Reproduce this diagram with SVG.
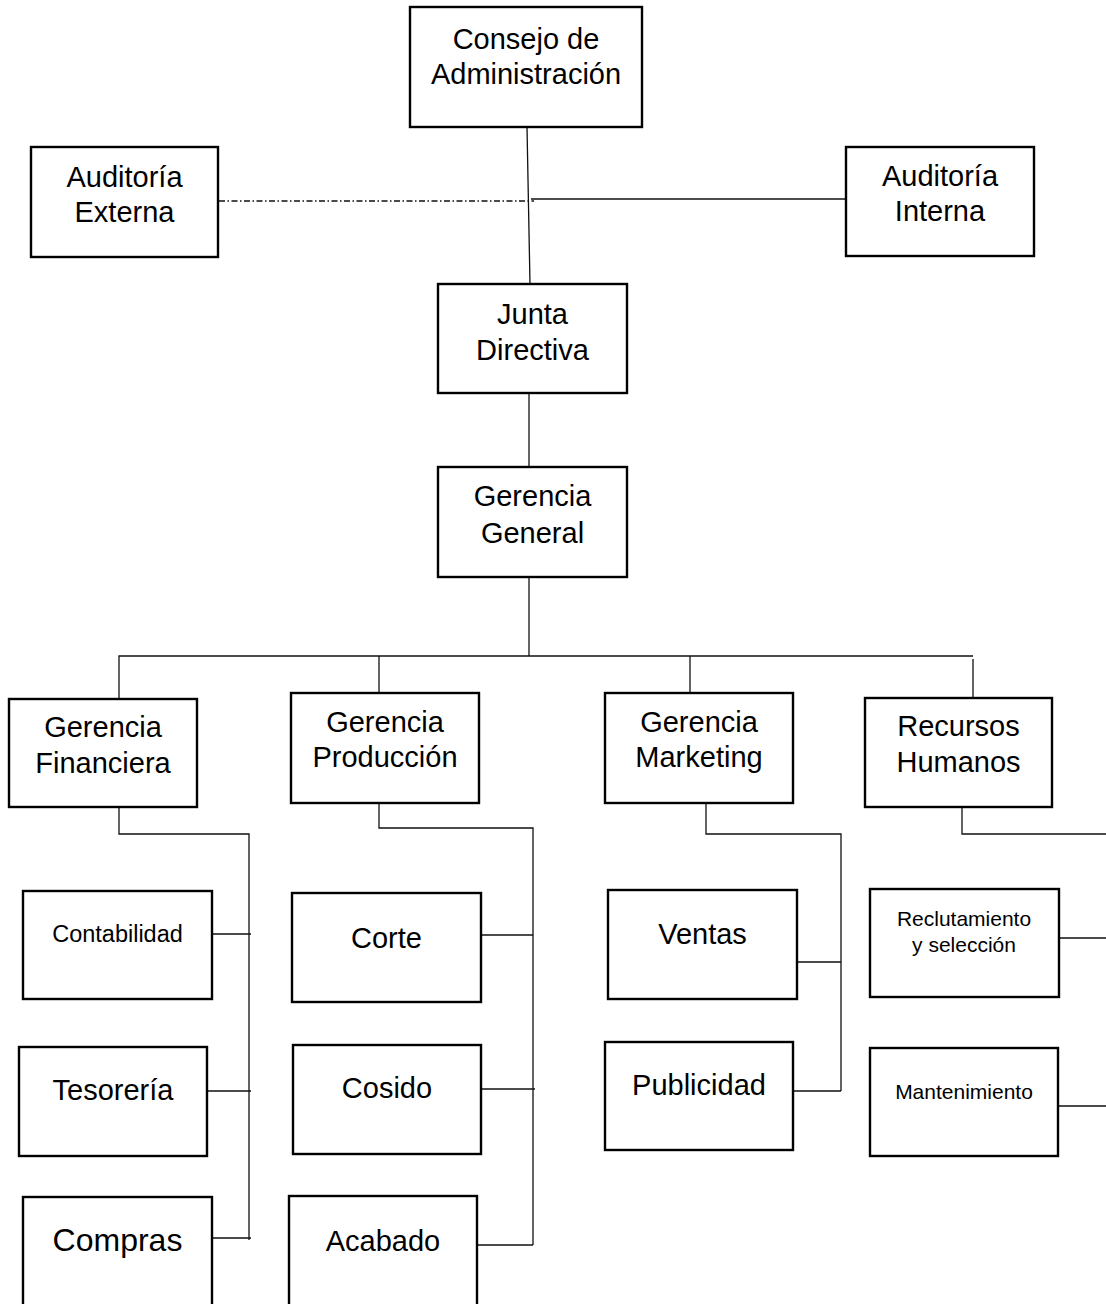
<svg xmlns="http://www.w3.org/2000/svg" width="1106" height="1304" viewBox="0 0 1106 1304">
<style>
.box{fill:#fff;stroke:#000;stroke-width:2.4}
.t{font-family:"Liberation Sans",Arial,sans-serif;font-size:29px;fill:#000;text-anchor:middle}
.s{font-size:21px}
.m{font-size:23.5px}
.l{font-size:32px}
.c{fill:none;stroke:#111;stroke-width:1.3}
.dd{fill:none;stroke:#111;stroke-width:1.4;stroke-dasharray:6,2.5,1.5,2.5}
</style>
<rect width="1106" height="1304" fill="#fff"/>
<g id="connectors">
<line class="c" x1="527" y1="127" x2="530" y2="284"/>
<line class="dd" x1="219" y1="201" x2="534" y2="201"/>
<line class="c" x1="531" y1="199" x2="846" y2="199"/>
<line class="c" x1="529" y1="393" x2="529" y2="467"/>
<line class="c" x1="529" y1="577" x2="529" y2="656"/>
<polyline class="c" points="119,700 119,656 973,656"/>
<line class="c" x1="379" y1="656" x2="379" y2="694"/>
<line class="c" x1="690" y1="656" x2="690" y2="693"/>
<line class="c" x1="973" y1="659" x2="973" y2="698"/>
<polyline class="c" points="119,808 119,834 249,834 249,1240"/>
<line class="c" x1="212" y1="934" x2="251" y2="934"/>
<line class="c" x1="207" y1="1091" x2="251" y2="1091"/>
<line class="c" x1="212" y1="1238" x2="251" y2="1238"/>
<polyline class="c" points="379,803 379,828 533,828 533,1245"/>
<line class="c" x1="481" y1="935" x2="533" y2="935"/>
<line class="c" x1="481" y1="1089" x2="535" y2="1089"/>
<line class="c" x1="477" y1="1245" x2="533" y2="1245"/>
<polyline class="c" points="706,803 706,834 841,834 841,1091"/>
<line class="c" x1="797" y1="962" x2="841" y2="962"/>
<line class="c" x1="793" y1="1091" x2="841" y2="1091"/>
<polyline class="c" points="962,808 962,834 1106,834"/>
<line class="c" x1="1059" y1="938" x2="1106" y2="938"/>
<line class="c" x1="1057" y1="1106" x2="1106" y2="1106"/>
</g>
<g id="consejo"><rect class="box" x="410" y="7" width="232" height="120"/><text class="t" x="526" y="49">Consejo de</text><text class="t" x="526" y="84">Administración</text></g>
<g id="auditoria-externa"><rect class="box" x="31" y="147" width="187" height="110"/><text class="t" x="124.5" y="187">Auditoría</text><text class="t" x="124.5" y="222">Externa</text></g>
<g id="auditoria-interna"><rect class="box" x="846" y="147" width="188" height="109"/><text class="t" x="940" y="186">Auditoría</text><text class="t" x="940" y="221">Interna</text></g>
<g id="junta"><rect class="box" x="438" y="284" width="189" height="109"/><text class="t" x="532.5" y="324">Junta</text><text class="t" x="532.5" y="360">Directiva</text></g>
<g id="gerencia-general"><rect class="box" x="438" y="467" width="189" height="110"/><text class="t" x="532.5" y="506">Gerencia</text><text class="t" x="532.5" y="543">General</text></g>
<g id="gerencia-financiera"><rect class="box" x="9" y="699" width="188" height="108"/><text class="t" x="103" y="737">Gerencia</text><text class="t" x="103" y="773">Financiera</text></g>
<g id="gerencia-produccion"><rect class="box" x="291" y="693" width="188" height="110"/><text class="t" x="385" y="732">Gerencia</text><text class="t" x="385" y="767">Producción</text></g>
<g id="gerencia-marketing"><rect class="box" x="605" y="693" width="188" height="110"/><text class="t" x="699" y="732">Gerencia</text><text class="t" x="699" y="767">Marketing</text></g>
<g id="recursos-humanos"><rect class="box" x="865" y="698" width="187" height="109"/><text class="t" x="958.5" y="736">Recursos</text><text class="t" x="958.5" y="772">Humanos</text></g>
<g id="contabilidad"><rect class="box" x="23" y="891" width="189" height="108"/><text class="t m" x="117.5" y="942">Contabilidad</text></g>
<g id="tesoreria"><rect class="box" x="19" y="1047" width="188" height="109"/><text class="t" x="113" y="1100">Tesorería</text></g>
<g id="compras"><rect class="box" x="23" y="1197" width="189" height="120"/><text class="t l" x="117.5" y="1251">Compras</text></g>
<g id="corte"><rect class="box" x="292" y="893" width="189" height="109"/><text class="t" x="386.5" y="948">Corte</text></g>
<g id="cosido"><rect class="box" x="293" y="1045" width="188" height="109"/><text class="t" x="387" y="1098">Cosido</text></g>
<g id="acabado"><rect class="box" x="289" y="1196" width="188" height="120"/><text class="t" x="383" y="1251">Acabado</text></g>
<g id="ventas"><rect class="box" x="608" y="890" width="189" height="109"/><text class="t" x="702.5" y="944">Ventas</text></g>
<g id="publicidad"><rect class="box" x="605" y="1042" width="188" height="108"/><text class="t" x="699" y="1095">Publicidad</text></g>
<g id="reclutamiento"><rect class="box" x="870" y="889" width="189" height="108"/><text class="t s" x="964" y="926">Reclutamiento</text><text class="t s" x="964" y="952">y selección</text></g>
<g id="mantenimiento"><rect class="box" x="870" y="1048" width="188" height="108"/><text class="t s" x="964" y="1099">Mantenimiento</text></g>
</svg>
